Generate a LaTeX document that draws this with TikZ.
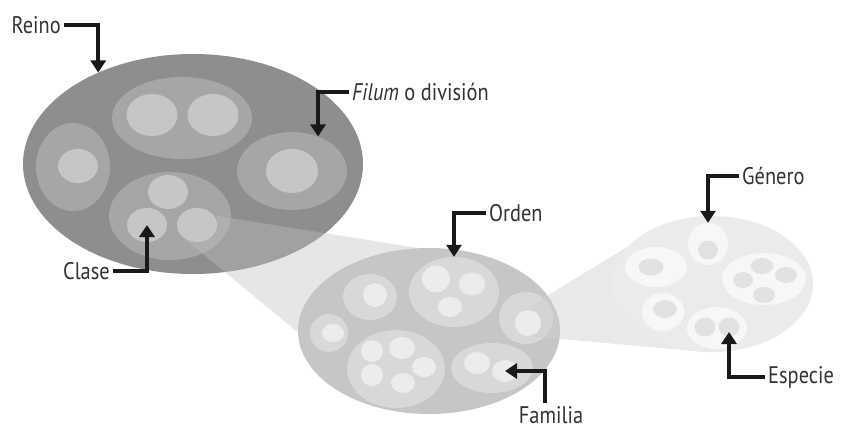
\documentclass[tikz,border=0pt]{standalone}
\usepackage{fontspec}
\setmainfont{PT Sans}[FakeStretch=0.85]
\usetikzlibrary{shapes.geometric,arrows.meta,positioning}

\definecolor{reinoA}{HTML}{8E8E8E}
\definecolor{reinoB}{HTML}{A6A6A6}
\definecolor{reinoC}{HTML}{C6C6C6}
\definecolor{ordenA}{HTML}{C6C6C6}
\definecolor{ordenB}{HTML}{D8D8D8}
\definecolor{ordenC}{HTML}{ECECEC}
\definecolor{generoA}{HTML}{EBEBEB}
\definecolor{generoB}{HTML}{F7F7F7}
\definecolor{generoC}{HTML}{E2E2E2}
\definecolor{coneA}{HTML}{BFBFBF}
\definecolor{coneB}{HTML}{D0D0D0}

\begin{document}
\begin{tikzpicture}[x=1pt, y=-1pt,
    blob/.style={ellipse, fill=#1, draw=none, inner sep=0pt},
    sz/.style 2 args={minimum width=#1, minimum height=#2},
    lbl/.style={font=\fontsize{24}{28}\selectfont, text=black!80, inner sep=3pt},
    arrow/.style={-{Triangle[width=15pt,length=12pt]}, line width=3.5pt, black!90}
]
    \fill[white] (0,0) rectangle (847,431);

    % Reino
    \node[blob=reinoA, sz={340pt}{220pt}] (reino) at (193,164) {};
    \node[blob=reinoB, sz={140pt}{82pt}] (rTop) at (182,118) {};
    \node[blob=reinoB, sz={74pt}{88pt}] (rLeft) at (73,167) {};
    \node[blob=reinoB, sz={110pt}{78pt}] (filum) at (292,171) {};
    \node[blob=reinoB, sz={122pt}{88pt}] (clase) at (170,216) {};

    % cone Reino -> Orden
    \fill[coneA, opacity=0.39] (217,216) -- (418,248) -- (300,334) -- (186,240) -- cycle;

    \node[blob=reinoC, sz={51pt}{42pt}] (rTop1) at (152,115) {};
    \node[blob=reinoC, sz={51pt}{42pt}] (rTop2) at (213,115) {};
    \node[blob=reinoC, sz={40pt}{34pt}] (rLeft1) at (78,166) {};
    \node[blob=reinoC, sz={52pt}{44pt}] (filum1) at (292,171) {};
    \node[blob=reinoC, sz={40pt}{34pt}] (clase1) at (168,192) {};
    \node[blob=reinoC, sz={40pt}{34pt}] (clase2) at (147,225) {};
    \node[blob=reinoC, sz={40pt}{34pt}] (clase3) at (197,225) {};

    % Orden
    \node[blob=ordenA, sz={262pt}{166pt}] (ordenBase) at (429,331) {};
    \node[blob=ordenB, sz={90pt}{70pt}] (orden) at (454,292) {};
    \node[blob=ordenB, sz={54pt}{46pt}] (oUL) at (370,297) {};
    \node[blob=ordenB, sz={38pt}{38pt}] (oLeft) at (329,333) {};
    \node[blob=ordenB, sz={54pt}{52pt}] (oRight) at (526,318) {};
    \node[blob=ordenB, sz={98pt}{78pt}] (oBL) at (396,369) {};
    \node[blob=ordenB, sz={82pt}{50pt}] (familia) at (492,368) {};

    % cone Orden -> Genero
    \fill[coneB, opacity=0.45] (522,311) -- (655,230) -- (705,352) -- (528,336) -- cycle;

    \node[blob=ordenC, sz={28pt}{27pt}] (orden1) at (436,279) {};
    \node[blob=ordenC, sz={26pt}{23pt}] (orden2) at (472,284) {};
    \node[blob=ordenC, sz={24pt}{20pt}] (orden3) at (450,307) {};
    \node[blob=ordenC, sz={24pt}{24pt}] (oUL1) at (375,295) {};
    \node[blob=ordenC, sz={22pt}{18pt}] (oLeft1) at (333,333) {};
    \node[blob=ordenC, sz={26pt}{26pt}] (oRight1) at (528,323) {};
    \node[blob=ordenC, sz={22pt}{22pt}] (oBL1) at (372,351) {};
    \node[blob=ordenC, sz={26pt}{22pt}] (oBL2) at (402,348) {};
    \node[blob=ordenC, sz={24pt}{20pt}] (oBL3) at (424,367) {};
    \node[blob=ordenC, sz={22pt}{22pt}] (oBL4) at (372,375) {};
    \node[blob=ordenC, sz={24pt}{20pt}] (oBL5) at (403,383) {};
    \node[blob=ordenC, sz={26pt}{22pt}] (fam1) at (477,363) {};
    \node[blob=ordenC, sz={26pt}{22pt}] (fam2) at (505,371) {};

    % Genero
    \node[blob=generoA, sz={202pt}{136pt}] (generoBase) at (712,284) {};
    \node[blob=generoB, sz={40pt}{42pt}] (genero) at (708,244) {};
    \node[blob=generoB, sz={62pt}{40pt}] (gLeft) at (656,267) {};
    \node[blob=generoB, sz={84pt}{52pt}] (gRight) at (764,279) {};
    \node[blob=generoB, sz={42pt}{38pt}] (gLL) at (663,312) {};
    \node[blob=generoB, sz={60pt}{42pt}] (especie) at (717,328) {};
    \node[blob=generoC, sz={20pt}{19pt}] (genero1) at (708,250) {};
    \node[blob=generoC, sz={25pt}{17pt}] (gLeft1) at (651,267) {};
    \node[blob=generoC, sz={23pt}{16pt}] (gRight1) at (762,266) {};
    \node[blob=generoC, sz={22pt}{16pt}] (gRight2) at (786,275) {};
    \node[blob=generoC, sz={20pt}{16pt}] (gRight3) at (743,280) {};
    \node[blob=generoC, sz={22pt}{16pt}] (gRight4) at (764,295) {};
    \node[blob=generoC, sz={24pt}{18pt}] (gLL1) at (665,309) {};
    \node[blob=generoC, sz={21pt}{19pt}] (esp1) at (705,327) {};
    \node[blob=generoC, sz={21pt}{19pt}] (esp2) at (729,327) {};

    % Labels
    \node[lbl, anchor=east] (lblReino) at (64,25) {Reino};
    \node[lbl, anchor=west] (lblFilum) at (349,92) {\textit{Filum} o división};
    \node[lbl, anchor=east] (lblClase) at (113,271) {Clase};
    \node[lbl, anchor=west] (lblOrden) at (486,213) {Orden};
    \node[lbl, anchor=north] (lblFamilia) at (551,403) {Familia};
    \node[lbl, anchor=west] (lblGenero) at (739,176) {Género};
    \node[lbl, anchor=west] (lblEspecie) at (765,377) {Especie};

    % Arrows
    \draw[arrow] (lblReino.east) -| (reino.136);
    \draw[arrow] (lblFilum.west) -| (filum.53);
    \draw[arrow] (lblClase.east) -| (clase2.center);
    \draw[arrow] (lblOrden.west) -| (orden.north);
    \draw[arrow] ([xshift=-6pt]lblFamilia.north) |- (fam2.center);
    \draw[arrow] (lblGenero.west) -| (genero.north);
    \draw[arrow, shorten >=5pt] (lblEspecie.west) -| (esp2.center);
\end{tikzpicture}
\end{document}
